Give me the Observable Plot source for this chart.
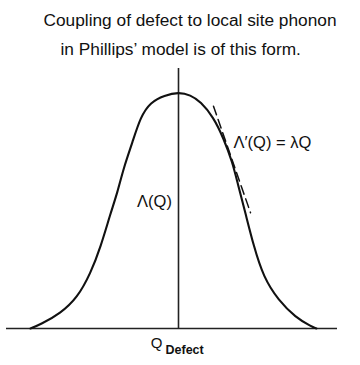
<!DOCTYPE html>
<html>
<head>
<meta charset="utf-8">
<script src="https://cdn.jsdelivr.net/npm/d3@7"></script>
<script src="https://cdn.jsdelivr.net/npm/@observablehq/plot@0.6"></script>
<style>
  body { margin: 0; background: #fff; }
  svg { display: block; }
</style>
</head>
<body>
<div id="chart"></div>
<script>
// Title text, two lines
const titleLines = [
  "Coupling of defect to local site phonon",
  "in Phillips\u2019 model is of this form."
];

// Coupling function Λ(Q) sampled along the defect coordinate Q
const curveQ = [
  -1.48, -1.38, -1.18, -1.01, -0.88, -0.78, -0.68, -0.61, -0.55, -0.46, -0.38, -0.28, -0.14,
  0.00, 0.12, 0.22, 0.35, 0.45, 0.54, 0.59, 0.67, 0.75, 0.85, 1.00, 1.17, 1.33, 1.38
];
const curveLambda = [
  0.000, 0.017, 0.064, 0.131, 0.233, 0.343, 0.487, 0.576, 0.678, 0.788, 0.895, 0.958, 0.986,
  1.000, 0.988, 0.960, 0.894, 0.805, 0.703, 0.617, 0.487, 0.352, 0.216, 0.119, 0.047, 0.008, 0.000
];

// Tangent segment Λ'(Q) = λQ on the falling side
const tangentQ      = [0.35, 0.72];
const tangentLambda = [0.94, 0.49];

// Axis labels
const curveLabel   = "\u039B(Q)";
const tangentLabel = "\u039B\u2032(Q) = \u03BBQ";
const axisSymbol   = "Q";
const axisSub      = "Defect";

const curve   = curveQ.map((q, i) => ({q, v: curveLambda[i]}));
const tangent = tangentQ.map((q, i) => ({q, v: tangentLambda[i]}));

const font = "Liberation Sans, Arial, sans-serif";

const chart = Plot.plot({
  width: 360,
  height: 365,
  marginLeft: 6,
  marginRight: 23,
  marginTop: 68,
  marginBottom: 37,
  x: {domain: [-1.72, 1.59], axis: null},
  y: {domain: [0, 1.1], axis: null},
  style: {fontFamily: font, color: "#111", background: "#fff"},
  marks: [
    Plot.ruleY([0], {stroke: "#222", strokeWidth: 1.6}),
    Plot.ruleX([0], {stroke: "#222", strokeWidth: 1.6}),
    Plot.line(curve, {x: "q", y: "v", curve: "basis", stroke: "#111", strokeWidth: 2.1}),
    Plot.line(tangent, {x: "q", y: "v", stroke: "#111", strokeWidth: 1.5, strokeDasharray: "9,5"}),
    Plot.text([curveLabel], {x: -0.24, y: 0.535, fontSize: 16.5, fill: "#111", ariaLabel: "label"}),
    Plot.text([tangentLabel], {x: 0.55, y: 0.788, textAnchor: "start", fontSize: 16.5, fill: "#111", ariaLabel: "label"}),
    Plot.text([titleLines[0]], {frameAnchor: "top-left", dx: 37, dy: -54.6, textAnchor: "start", fontSize: 17.3, fill: "#111", ariaLabel: "title"}),
    Plot.text([titleLines[1]], {frameAnchor: "top-left", dx: 54, dy: -25.6, textAnchor: "start", fontSize: 17.3, fill: "#111", ariaLabel: "title"}),
    Plot.text([axisSymbol], {frameAnchor: "bottom-left", dx: 150, dy: 19, textAnchor: "middle", fontSize: 15, fill: "#111", ariaLabel: "label"}),
    Plot.text([axisSub], {frameAnchor: "bottom-left", dx: 159, dy: 25, textAnchor: "start", fontSize: 12.5, fontWeight: "bold", fill: "#111", ariaLabel: "sub"})
  ]
});

// Spread the lettering a little and give it a slightly heavier stroke
d3.select(chart).selectAll('g[aria-label="title"] text')
  .attr("letter-spacing", "1.25px").attr("stroke", "#111").attr("stroke-width", 0.35);
d3.select(chart).selectAll('g[aria-label="label"] text')
  .attr("letter-spacing", "1.3px").attr("stroke", "#111").attr("stroke-width", 0.3);
d3.select(chart).selectAll('g[aria-label="sub"] text').attr("letter-spacing", "1.8px");

document.getElementById("chart").appendChild(chart);
</script>
</body>
</html>
